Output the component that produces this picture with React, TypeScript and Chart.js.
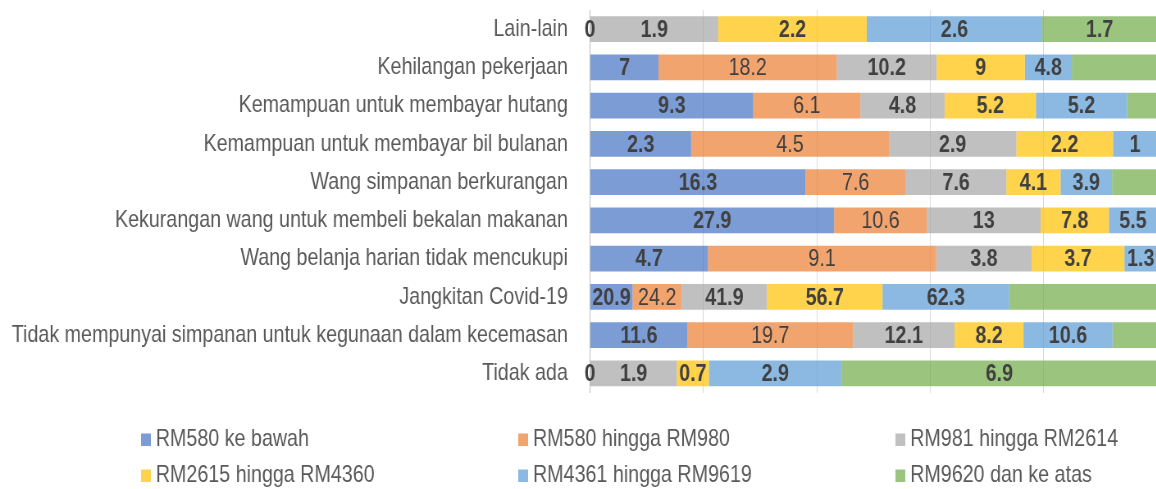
import React, { useEffect, useRef } from "react";
import { Chart, registerables } from "chart.js";

Chart.register(...registerables);

const categories = [
  "Lain-lain",
  "Kehilangan pekerjaan",
  "Kemampuan untuk membayar hutang",
  "Kemampuan untuk membayar bil bulanan",
  "Wang simpanan berkurangan",
  "Kekurangan wang untuk membeli bekalan makanan",
  "Wang belanja harian tidak mencukupi",
  "Jangkitan Covid-19",
  "Tidak mempunyai simpanan untuk kegunaan dalam kecemasan",
  "Tidak ada",
];

const seriesNames = [
  "RM580 ke bawah",
  "RM580 hingga RM980",
  "RM981 hingga RM2614",
  "RM2615 hingga RM4360",
  "RM4361 hingga RM9619",
  "RM9620 dan ke atas",
];

const below580 = [0, 7, 9.3, 2.3, 16.3, 27.9, 4.7, 20.9, 11.6, 0];
const rm580to980 = [null, 18.2, 6.1, 4.5, 7.6, 10.6, 9.1, 24.2, 19.7, null];
const rm981to2614 = [1.9, 10.2, 4.8, 2.9, 7.6, 13, 3.8, 41.9, 12.1, 1.9];
const rm2615to4360 = [2.2, 9, 5.2, 2.2, 4.1, 7.8, 3.7, 56.7, 8.2, 0.7];
const rm4361to9619 = [2.6, 4.8, 5.2, 1, 3.9, 5.5, 1.3, 62.3, 10.6, 2.9];
const rm9620above = [1.7, 8.7, 1.7, 0, 3.4, 0, 0, 72.6, 5.3, 6.9];
const rm9620LabelShown = [true, false, false, false, false, false, false, false, false, true];

const seriesValues: (number | null)[][] = [
  below580,
  rm580to980,
  rm981to2614,
  rm2615to4360,
  rm4361to9619,
  rm9620above,
];

const seriesColors = [
  "rgba(68,114,196,0.7)",
  "rgba(237,125,49,0.7)",
  "rgba(165,165,165,0.7)",
  "rgba(255,192,0,0.7)",
  "rgba(91,155,213,0.7)",
  "rgba(112,173,71,0.7)",
];

const SQUEEZE = 0.82;
const CANVAS_W = 1411;
const CANVAS_H = 489;
const FONT = '"Liberation Sans", Arial, sans-serif';

const rowTotals = categories.map((_, i) =>
  seriesValues.reduce((s, arr) => s + (arr[i] == null ? 0 : (arr[i] as number)), 0)
);

const labelPlugin = {
  id: "segmentLabels",
  afterDatasetsDraw(chart: any) {
    const ctx = chart.ctx;
    chart.data.datasets.forEach((_: any, di: number) => {
      const meta = chart.getDatasetMeta(di);
      meta.data.forEach((el: any, i: number) => {
        const raw = seriesValues[di][i];
        if (raw == null) return;
        if (di === 5 && !rm9620LabelShown[i]) return;
        const { x, base, y } = el.getProps(["x", "base", "y"], true);
        ctx.save();
        ctx.font = `${di === 1 ? "400" : "700"} 24px ${FONT}`;
        ctx.fillStyle = "#404040";
        ctx.textAlign = "center";
        ctx.textBaseline = "middle";
        ctx.fillText(String(raw), (x + base) / 2, y + 1);
        ctx.restore();
      });
    });
  },
};

const legendPlugin = {
  id: "gridLegend",
  afterDraw(chart: any) {
    const ctx = chart.ctx;
    const colX = [190, 650, 1110];
    const rowBase = [446, 482];
    ctx.save();
    ctx.font = `400 24px ${FONT}`;
    ctx.textBaseline = "alphabetic";
    ctx.textAlign = "left";
    seriesNames.forEach((name, i) => {
      const col = i % 3;
      const row = Math.floor(i / 3);
      const tx = colX[col];
      const by = rowBase[row];
      ctx.fillStyle = seriesColors[i];
      ctx.fillRect(tx - 18, by - 12.5, 12, 12.5);
      ctx.fillStyle = "#595959";
      ctx.fillText(name, tx, by);
    });
    ctx.restore();
  },
};

export default function App() {
  const ref = useRef<HTMLCanvasElement | null>(null);

  useEffect(() => {
    if (!ref.current) return;
    const chart = new Chart(ref.current, {
      type: "bar",
      data: {
        labels: categories,
        datasets: seriesValues.map((arr, di) => ({
          label: seriesNames[di],
          data: arr.map((v, i) => (v == null ? null : (v / rowTotals[i]) * 100)),
          backgroundColor: seriesColors[di],
          borderWidth: 0,
          categoryPercentage: 1,
          barPercentage: 0.67,
        })),
      },
      options: {
        indexAxis: "y",
        responsive: false,
        animation: false,
        events: [],
        layout: { padding: { top: 10, bottom: 96.5, left: 0, right: 0 } },
        scales: {
          x: {
            stacked: true,
            min: 0,
            max: 100,
            ticks: { display: false, stepSize: 20 },
            grid: { color: "#d9d9d9", lineWidth: 1, drawTicks: false },
            border: { display: false },
            afterFit: (s: any) => {
              s.height = 0;
              s.paddingLeft = 0;
              s.paddingRight = 0;
            },
          },
          y: {
            stacked: true,
            grid: { display: false, drawTicks: false },
            border: { display: true, color: "#bfbfbf", width: 1 },
            ticks: {
              padding: 27,
              color: "#595959",
              font: { family: FONT, size: 24, weight: "400" },
            },
            afterFit: (s: any) => {
              s.width = 719.5;
              s.paddingTop = 0;
              s.paddingBottom = 0;
            },
          },
        },
        plugins: {
          legend: { display: false },
          tooltip: { enabled: false },
          title: { display: false },
        },
      },
      plugins: [labelPlugin, legendPlugin],
    } as any);
    return () => chart.destroy();
  }, []);

  return (
    <div
      style={{
        position: "fixed",
        left: 0,
        top: 0,
        width: 1156,
        height: 489,
        overflow: "hidden",
        background: "#ffffff",
      }}
    >
      <canvas
        ref={ref}
        width={CANVAS_W}
        height={CANVAS_H}
        style={{
          width: CANVAS_W + "px",
          height: CANVAS_H + "px",
          transform: `scaleX(${SQUEEZE})`,
          transformOrigin: "0 0",
          display: "block",
        }}
      />
    </div>
  );
}
